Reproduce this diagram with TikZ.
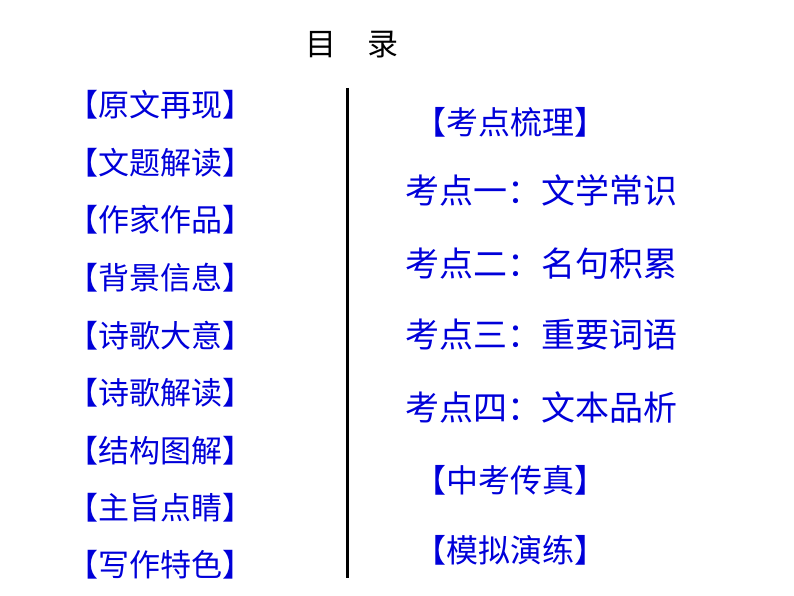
\documentclass[tikz,border=0pt]{standalone}
\usepackage{fontspec}
\setmainfont{Noto Sans CJK SC}
\newcommand{\myLB}{\makebox[1em][r]{【}}
\newcommand{\myRB}{\makebox[1em][l]{】}}
\begin{document}
\begin{tikzpicture}[x=1pt,y=-1pt,
  item/.style={text=blue!85!black,font=\fontsize{31}{32}\selectfont,inner sep=0pt,anchor=center},
  ritem/.style={item,anchor=west,font=\fontsize{34}{35}\selectfont}]
\useasboundingbox (0,0) rectangle (794,596);
\node[item,text=black] (title) at (352,45) {目\hspace{1em}录};
\foreach \t/\y [count=\i] in {原文再现/105,文题解读/163,作家作品/220,背景信息/278,诗歌大意/336,诗歌解读/393,结构图解/451,主旨点睛/508,写作特色/565}
  \node[item] (l\i) at (160,\y) {\myLB\t\myRB};
\coordinate (top) at (347,88);
\coordinate (bot) at (347,578);
\draw[line width=3pt] (top) -- (bot);
\node[item,font=\fontsize{32}{33}\selectfont] (r0) at (510,122) {\myLB 考点梳理\myRB};
\node[ritem] (r1) at (405,190) {考点一：文学常识};
\node[ritem] (r2) at (405,264) {考点二：名句积累};
\node[ritem] (r3) at (405,335) {考点三：重要词语};
\node[ritem] (r4) at (405,407) {考点四：文本品析};
\node[item,font=\fontsize{32}{33}\selectfont] (r5) at (510,480) {\myLB 中考传真\myRB};
\node[item,font=\fontsize{32}{33}\selectfont] (r6) at (510,550) {\myLB 模拟演练\myRB};
\end{tikzpicture}
\end{document}
